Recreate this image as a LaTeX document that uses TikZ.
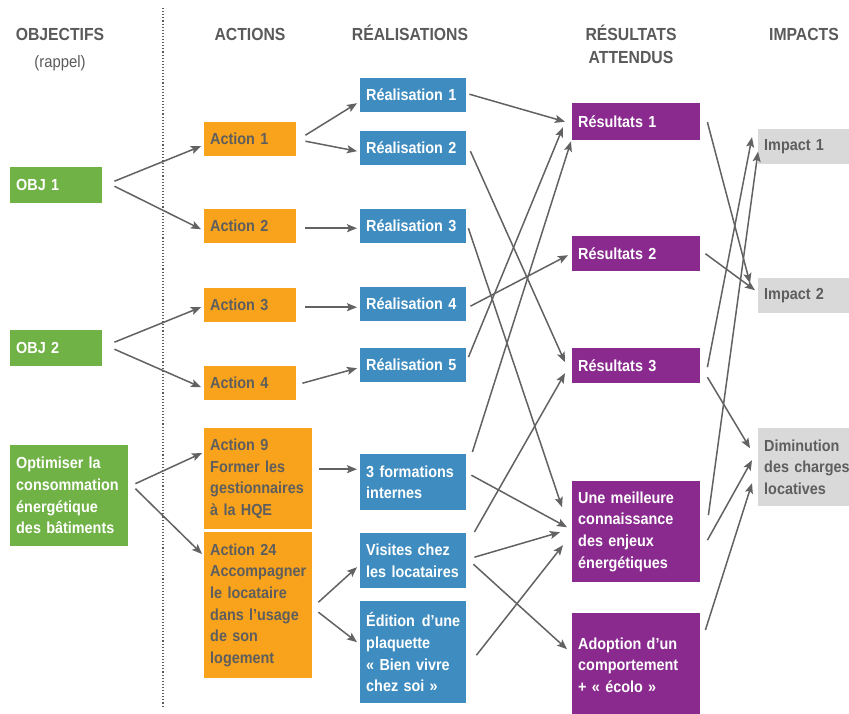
\documentclass[tikz,border=0pt]{standalone}
\usepackage{fontspec}
\setmainfont[FakeStretch=0.9]{Liberation Sans}
\usepackage{tikz}
\usetikzlibrary{arrows.meta}
\hyphenpenalty=10000
\exhyphenpenalty=10000

\definecolor{objgreen}{HTML}{70B245}
\definecolor{actorange}{HTML}{F8A31B}
\definecolor{realblue}{HTML}{3F8DC0}
\definecolor{respurple}{HTML}{8A2A8E}
\definecolor{impgray}{HTML}{D9D9D9}
\definecolor{textgray}{HTML}{5E5E5E}
\definecolor{headgray}{HTML}{5A5A5A}
\definecolor{arrowgray}{HTML}{626262}

\begin{document}
\begin{tikzpicture}[x=1pt,y=-1pt,>={Stealth[length=10pt,width=8pt,inset=2pt]},
  head/.style={anchor=base,inner sep=0pt,text=headgray,font=\fontsize{17.5}{21}\selectfont\bfseries},
  box/.style={anchor=north west,inner xsep=6pt,inner ysep=0pt,align=left,font=\fontsize{16}{21.7}\selectfont\bfseries},
  obj/.style={box,fill=objgreen,text=white},
  act/.style={box,fill=actorange,text=textgray},
  real/.style={box,fill=realblue,text=white},
  res/.style={box,fill=respurple,text=white},
  imp/.style={box,fill=impgray,text=textgray},
  arr/.style={->,line width=1.5pt,draw=arrowgray}]
  \fill[white] (0,0) rectangle (849,713);
  \useasboundingbox (0,0) rectangle (849,713);

  % column titles
  \node[head] (hobj) at (60,40) {OBJECTIFS};
  \node[head,font=\fontsize{16.5}{20}\selectfont] (hrap) at (60,67) {(rappel)};
  \node[head] (hact) at (250,40) {ACTIONS};
  \node[head] (hreal) at (410,40) {RÉALISATIONS};
  \node[head] (hres) at (631,40) {RÉSULTATS};
  \node[head] (hatt) at (631,63) {ATTENDUS};
  \node[head] (himp) at (804,40) {IMPACTS};
  \draw[dotted,line width=1.1pt,draw=headgray] (163,8) -- (163,706);

  % objectifs
  \node[obj,text width=80pt,minimum height=36pt] (obj1) at (10,167) {OBJ 1};
  \node[obj,text width=80pt,minimum height=36pt] (obj2) at (10,330) {OBJ 2};
  \node[obj,text width=106pt,minimum height=101pt] (obj3) at (10,445)
    {Optimiser la\\consommation\\énergétique\\des bâtiments};

  % actions
  \node[act,text width=80pt,minimum height=34pt] (act1) at (204,122) {Action 1};
  \node[act,text width=80pt,minimum height=34pt] (act2) at (204,209) {Action 2};
  \node[act,text width=80pt,minimum height=34pt] (act3) at (204,288) {Action 3};
  \node[act,text width=80pt,minimum height=34pt] (act4) at (204,366) {Action 4};
  \node[act,text width=96pt,minimum height=101pt] (act9) at (204,428)
    {Action 9\\Former les\\gestionnaires\\à la HQE};
  \node[act,text width=96pt,minimum height=146pt] (act24) at (204,532)
    {Action 24\\Accompagner\\le locataire\\dans l’usage\\de son\\logement};

  % realisations
  \node[real,text width=94pt,minimum height=34pt] (real1) at (360,78) {Réalisation 1};
  \node[real,text width=94pt,minimum height=34pt] (real2) at (360,131) {Réalisation 2};
  \node[real,text width=94pt,minimum height=34pt] (real3) at (360,209) {Réalisation 3};
  \node[real,text width=94pt,minimum height=34pt] (real4) at (360,287) {Réalisation 4};
  \node[real,text width=94pt,minimum height=34pt] (real5) at (360,348) {Réalisation 5};
  \node[real,text width=94pt,minimum height=56pt] (realF) at (360,454) {3 formations\\internes};
  \node[real,text width=94pt,minimum height=55pt] (realV) at (360,533) {Visites chez\\les locataires};
  \node[real,text width=94pt,minimum height=102pt] (realE) at (360,601)
    {Édition\hfill d’une\\plaquette\\«~Bien vivre\\chez soi~»};

  % resultats attendus
  \node[res,text width=116pt,minimum height=37pt] (res1) at (572,103) {Résultats 1};
  \node[res,text width=116pt,minimum height=35pt] (res2) at (572,236) {Résultats 2};
  \node[res,text width=116pt,minimum height=35pt] (res3) at (572,348) {Résultats 3};
  \node[res,text width=116pt,minimum height=101pt] (resC) at (572,481)
    {Une meilleure\\connaissance\\des enjeux\\énergétiques};
  \node[res,text width=116pt,minimum height=104pt] (resA) at (572,613)
    {Adoption d’un\\comportement\\+ «~écolo~»};

  % impacts
  \node[imp,text width=96pt,minimum height=35pt] (imp1) at (758,129) {Impact 1};
  \node[imp,text width=96pt,minimum height=35pt] (imp2) at (758,278) {Impact 2};
  \node[imp,text width=96pt,minimum height=78pt] (impD) at (758,428)
    {Diminution\\des charges\\locatives};

  % objectifs -> actions
  \draw[arr] ([shift={(12,-4)}]obj1.east) -- ([shift={(-3,7)}]act1.west);
  \draw[arr] ([shift={(12,1)}]obj1.east) -- ([shift={(-3,3)}]act2.west);
  \draw[arr] ([shift={(12,-6)}]obj2.east) -- ([shift={(-3,2)}]act3.west);
  \draw[arr] ([shift={(12,1)}]obj2.east) -- ([shift={(-3,4)}]act4.west);
  \draw[arr] ([shift={(7,-12)}]obj3.east) -- ([shift={(-2,25)}]act9.north west);
  \draw[arr] ([shift={(7,-7)}]obj3.east) -- ([shift={(-2,22)}]act24.north west);

  % actions -> realisations
  \draw[arr] ([shift={(9,-4)}]act1.east) -- ([shift={(-3,8)}]real1.west);
  \draw[arr] ([shift={(9,2)}]act1.east) -- ([shift={(-3,3)}]real2.west);
  \draw[arr] ([shift={(9,2)}]act2.east) -- ([shift={(-3,2)}]real3.west);
  \draw[arr] ([shift={(9,2)}]act3.east) -- ([shift={(-3,3)}]real4.west);
  \draw[arr] ([shift={(6,0)}]act4.east) -- ([shift={(-3,3)}]real5.west);
  \draw[arr] ([shift={(7,-9.5)}]act9.east) -- ([shift={(-3,-13)}]realF.west);
  \draw[arr] ([shift={(6,-3)}]act24.east) -- ([shift={(-3,6.5)}]realV.west);
  \draw[arr] ([shift={(6,7)}]act24.east) -- ([shift={(-3,-10)}]realE.west);

  % realisations -> resultats
  \draw[arr] ([shift={(3,-1)}]real1.east) -- ([shift={(-7,0)}]res1.west);
  \draw[arr] ([shift={(4,3)}]real2.east) -- ([shift={(-7,-3.5)}]res3.west);
  \draw[arr] ([shift={(2,2)}]real3.east) -- ([shift={(-10,-24.5)}]resC.west);
  \draw[arr] ([shift={(4,2)}]real4.east) -- ([shift={(-4,1.5)}]res2.west);
  \draw[arr] ([shift={(2,-8)}]real5.east) -- ([shift={(-9,5.5)}]res1.west);
  \draw[arr] ([shift={(6,-2)}]realF.north east) -- ([shift={(-1,1)}]res1.south west);
  \draw[arr] ([shift={(5,-7)}]realF.east) -- ([shift={(-5,-4.5)}]resC.west);
  \draw[arr] ([shift={(8,-1)}]realV.north east) -- ([shift={(-7,7.5)}]res3.west);
  \draw[arr] ([shift={(8,-3.5)}]realV.east) -- ([shift={(-12,0.5)}]resC.west);
  \draw[arr] ([shift={(7,3.5)}]realV.east) -- ([shift={(-5,-16)}]resA.west);
  \draw[arr] ([shift={(10,3)}]realE.east) -- ([shift={(-9,13.5)}]resC.west);

  % resultats -> impacts
  \draw[arr] ([shift={(7,0.5)}]res1.east) -- ([shift={(-8,-12.5)}]imp2.west);
  \draw[arr] ([shift={(5,0)}]res2.east) -- ([shift={(-3,-5.5)}]imp2.west);
  \draw[arr] ([shift={(7,1.5)}]res3.east) -- ([shift={(-6,-9.5)}]imp1.west);
  \draw[arr] ([shift={(7,11.5)}]res3.east) -- ([shift={(-8,-19)}]impD.west);
  \draw[arr] ([shift={(8,-16.5)}]resC.east) -- ([shift={(0,5)}]imp1.west);
  \draw[arr] ([shift={(7,8.5)}]resC.east) -- ([shift={(-6,-7)}]impD.west);
  \draw[arr] ([shift={(5,17)}]resA.north east) -- ([shift={(-6,16)}]impD.west);
\end{tikzpicture}
\end{document}
